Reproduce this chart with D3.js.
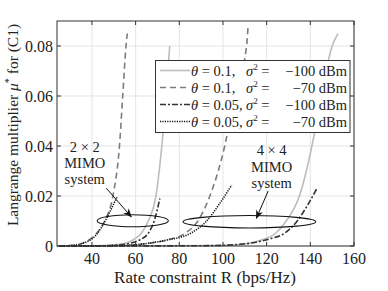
<!DOCTYPE html>
<html>
<head>
<meta charset="utf-8">
<script src="https://cdn.jsdelivr.net/npm/d3@7"></script>
<style>
  body { margin: 0; background: #fff; }
  svg text { font-family: 'Liberation Serif', 'DejaVu Serif', 'Noto Serif', serif; }
</style>
</head>
<body>
<svg width="388" height="291" fill="#222"></svg>
<script>
// curves: [R, mu]
let solid2 = [[25,0],[45,0.0002],[52,0.0006],[56,0.0013],[59,0.0025],[62.5,0.005],[65.8,0.01],[69.3,0.02],[72,0.04],[74,0.06],[75.6,0.08]]
let dashed2 = [[25,0],[32,0.0003],[36,0.0012],[42,0.005],[45.8,0.01],[49.6,0.02],[52.6,0.04],[54.1,0.06],[55.6,0.08],[56.2,0.085]]
let dashDot2 = [[25,0],[45,0.0001],[52,0.0004],[58,0.0012],[62,0.0025],[65.7,0.005],[68.5,0.01],[71.1,0.019]]
let dotted2 = [[25,0],[30,0.0002],[35.5,0.001],[42,0.0045],[46.3,0.0104],[49.5,0.016],[51.6,0.0197]]

let solid4 = [[25,0],[100,0.0002],[110,0.0008],[118,0.0025],[124,0.005],[129,0.01],[135,0.02],[141.2,0.042],[145,0.06],[150,0.08],[152.7,0.085]]
let dashed4 = [[25,0],[55,0.0002],[65,0.001],[75,0.0025],[82.5,0.005],[88.5,0.01],[94,0.02],[100.8,0.04],[105.3,0.06],[110.8,0.08],[111.5,0.088]]
let dashDot4 = [[25,0],[90,0.0001],[105,0.0005],[115,0.0015],[122,0.003],[128,0.005],[134,0.01],[138.5,0.016],[142.8,0.0227]]
let dotted4 = [[25,0],[55,0.0002],[65,0.001],[75,0.0025],[85,0.005],[92.5,0.01],[98.5,0.017],[104,0.0244]]

let xTicks = [40, 60, 80, 100, 120, 140, 160]
let yTicks = [0, 0.02, 0.04, 0.06, 0.08]
let yTickLabels = ['0', '0.02', '0.04', '0.06', '0.08']

let legendTheta = ['0.1,', '0.1,', '0.05,', '0.05,']
let legendSigma = ['\u2212100 dBm', '\u221270 dBm', '\u2212100 dBm', '\u221270 dBm']

// annotations: ellipse [cx, cy, rx, ry] and arrow [R0, mu0, R1, mu1] in data units
let ellipses = [[58.7, 0.0101, 16.3, 0.0024], [112.1, 0.0097, 30.4, 0.0025]]
let arrows = [[46.6, 0.0231, 58.0, 0.0117], [120.7, 0.022, 115.3, 0.0111]]
let notes = [
  {R: 36.7, mu: [0.0376, 0.0312, 0.0248], lines: ['2 \u00d7 2', 'MIMO', 'system']},
  {R: 122.3, mu: [0.0364, 0.0296, 0.0232], lines: ['4 \u00d7 4', 'MIMO', 'system']}
]

let margin = {left: 57, right: 34, top: 21, bottom: 45}
let width = 388, height = 291
let svg = d3.select('svg')

let x = d3.scaleLinear().domain([24, 160]).range([margin.left, width - margin.right])
let y = d3.scaleLinear().domain([0, 0.09]).range([height - margin.bottom, margin.top])

// grid
svg.append('g').selectAll('line').data(xTicks).join('line')
  .attr('x1', d => x(d)).attr('x2', d => x(d))
  .attr('y1', y(0)).attr('y2', y(0.09))
  .attr('stroke', '#e5e5e5').attr('stroke-width', 1)
svg.append('g').selectAll('line').data(yTicks).join('line')
  .attr('x1', x(24)).attr('x2', x(160))
  .attr('y1', d => y(d)).attr('y2', d => y(d))
  .attr('stroke', '#e5e5e5').attr('stroke-width', 1)

// curves
let line = d3.line().x(d => x(d[0])).y(d => y(d[1])).curve(d3.curveMonotoneX)
let styles = [
  {dash: null, color: '#bdbdbd', w: 1.6},
  {dash: '6,4', color: '#7c7c7c', w: 1.6},
  {dash: '6,2,2,2', color: '#333', w: 1.6},
  {dash: '1.2,1.2', color: '#111', w: 1.6}
]
let series = [[solid2, 0], [dashed2, 1], [dashDot2, 2], [dotted2, 3],
              [solid4, 0], [dashed4, 1], [dashDot4, 2], [dotted4, 3]]
svg.append('g').selectAll('path').data(series).join('path')
  .attr('d', d => line(d[0]))
  .attr('fill', 'none')
  .attr('stroke', d => styles[d[1]].color)
  .attr('stroke-width', d => styles[d[1]].w)
  .attr('stroke-dasharray', d => styles[d[1]].dash)

// axes box with inward ticks
let g = svg.append('g').attr('font-size', 16)
g.append('rect')
  .attr('x', x(24)).attr('y', y(0.09))
  .attr('width', x(160) - x(24)).attr('height', y(0) - y(0.09))
  .attr('fill', 'none').attr('stroke', '#333').attr('stroke-width', 1)
let tickLen = 4
xTicks.forEach(t => {
  g.append('line').attr('x1', x(t)).attr('x2', x(t)).attr('y1', y(0)).attr('y2', y(0) - tickLen).attr('stroke', '#333')
  g.append('line').attr('x1', x(t)).attr('x2', x(t)).attr('y1', y(0.09)).attr('y2', y(0.09) + tickLen).attr('stroke', '#333')
  g.append('text').attr('x', x(t)).attr('y', y(0) + 18).attr('text-anchor', 'middle').text(t)
})
yTicks.forEach((t, i) => {
  g.append('line').attr('x1', x(24)).attr('x2', x(24) + tickLen).attr('y1', y(t)).attr('y2', y(t)).attr('stroke', '#333')
  g.append('line').attr('x1', x(160)).attr('x2', x(160) - tickLen).attr('y1', y(t)).attr('y2', y(t)).attr('stroke', '#333')
  g.append('text').attr('x', x(24) - 4).attr('y', y(t) + 5.5).attr('text-anchor', 'end').text(yTickLabels[i])
})

// axis labels
svg.append('text').attr('x', 205).attr('y', 283).attr('text-anchor', 'middle')
  .attr('font-size', 17).text('Rate constraint R (bps/Hz)')
let yl = svg.append('text').attr('transform', 'translate(18,125) rotate(-90)')
  .attr('text-anchor', 'middle').attr('font-size', 15.5)
yl.append('tspan').text('Langrange multiplier ')
yl.append('tspan').attr('font-style', 'italic').text('\u03bc')
yl.append('tspan').attr('font-size', 10).attr('dy', -6).text('*')
yl.append('tspan').attr('dy', 6).text(' for (C1)')

// annotations
svg.append('g').selectAll('ellipse').data(ellipses).join('ellipse')
  .attr('cx', d => x(d[0])).attr('cy', d => y(d[1]))
  .attr('rx', d => x(d[0] + d[2]) - x(d[0])).attr('ry', d => y(0) - y(d[3]))
  .attr('fill', 'none').attr('stroke', '#111').attr('stroke-width', 1.1)

svg.append('defs').append('marker').attr('id', 'head')
  .attr('viewBox', '0 0 10 10').attr('refX', 9).attr('refY', 5)
  .attr('markerWidth', 9).attr('markerHeight', 9).attr('orient', 'auto')
  .attr('markerUnits', 'userSpaceOnUse')
  .append('path').attr('d', 'M0,1 L10,5 L0,9 L3,5 Z').attr('fill', '#111')
svg.append('g').selectAll('line').data(arrows).join('line')
  .attr('x1', d => x(d[0])).attr('y1', d => y(d[1]))
  .attr('x2', d => x(d[2])).attr('y2', d => y(d[3]))
  .attr('stroke', '#111').attr('stroke-width', 1)
  .attr('marker-end', 'url(#head)')

notes.forEach(n => {
  n.lines.forEach((s, i) => {
    svg.append('text').attr('x', x(n.R)).attr('y', y(n.mu[i]))
      .attr('text-anchor', 'middle').attr('font-size', 14.5).text(s)
  })
})

// legend
let lg = svg.append('g').attr('font-size', 14.5)
lg.append('rect').attr('x', 155.5).attr('y', 60.5).attr('width', 194.5).attr('height', 72)
  .attr('fill', '#fff').attr('stroke', '#333').attr('stroke-width', 1)
styles.forEach((s, i) => {
  let yy = 70.5 + i * 17
  lg.append('line').attr('x1', 160).attr('x2', 190).attr('y1', yy).attr('y2', yy)
    .attr('stroke', s.color).attr('stroke-width', s.w).attr('stroke-dasharray', s.dash)
  let t1 = lg.append('text').attr('x', 191).attr('y', yy + 5)
  t1.append('tspan').attr('font-style', 'italic').text('\u03b8')
  t1.append('tspan').text(' = ' + legendTheta[i])
  let t2 = lg.append('text').attr('x', 246).attr('y', yy + 5)
  t2.append('tspan').attr('font-style', 'italic').text('\u03c3')
  t2.append('tspan').attr('font-size', 9).attr('dy', -6).text('2')
  t2.append('tspan').attr('dy', 6).text(' =')
  lg.append('text').attr('x', 347).attr('y', yy + 5).attr('text-anchor', 'end').text(legendSigma[i])
})
</script>
</body>
</html>
